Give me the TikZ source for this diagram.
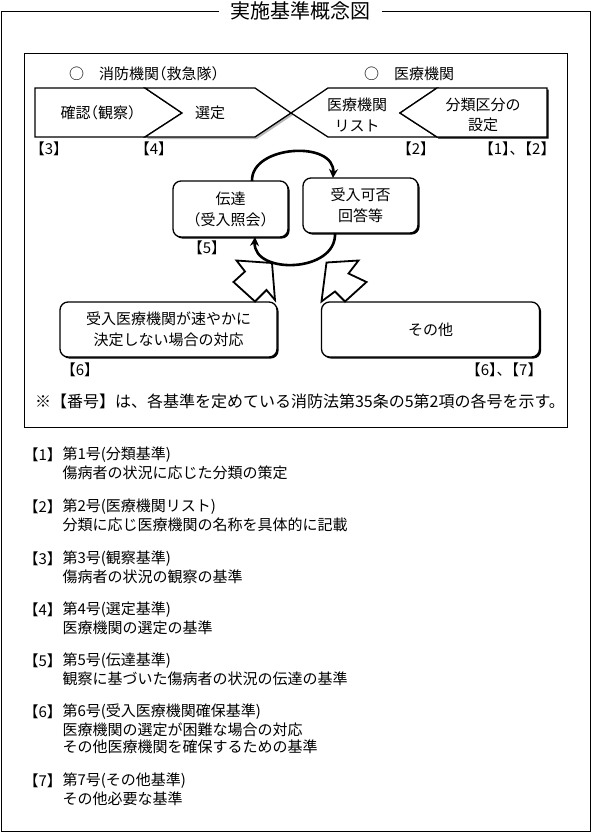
\documentclass[tikz,border=0pt]{standalone}
\usepackage{fontspec}
\setmainfont{Noto Sans CJK JP}
\newfontfamily\brk[RawFeature=+halt]{Noto Sans CJK JP}
\usetikzlibrary{arrows.meta,shadows}
\begin{document}
\begin{tikzpicture}[x=1pt,y=-1pt,
  every node/.style={inner sep=0pt, outer sep=0pt},
  txt/.style={font=\fontsize{15}{20.5}\selectfont, align=center},
  lst/.style={font=\fontsize{15}{17.5}\selectfont, anchor=west},
  lab/.style={font=\brk\fontsize{15}{17}\selectfont},
  chev/.style={draw=black, line width=1.3pt, fill=white, line join=miter},
  chevshadow/.style={fill=gray!55, draw=none},
  chevshadowk/.style={fill=black, draw=none},
  rbox/.style={draw=black, line width=1.3pt, fill=white, rounded corners=8pt,
    drop shadow={shadow xshift=1.6pt, shadow yshift=-1.6pt, fill=black, opacity=1},
    font=\fontsize{15}{21}\selectfont, align=center},
  cyc/.style={line width=2.6pt, -{Stealth[length=9pt,width=9pt]}},
  blk/.style={draw=black, line width=1.8pt, fill=white, line join=miter},
  frame/.style={line width=1pt}
]
\useasboundingbox (0,0) rectangle (591,833);

% title and outer frame
\node[font=\fontsize{20}{22}\selectfont, inner xsep=11.5pt] (title) at (300.5,11) {実施基準概念図};
\draw[frame] (title.west) -- (1,11) -- (1,831) -- (590,831) -- (590,11) -- (title.east);

% inner box
\draw[frame] (24,53) rectangle (567,427);

% headings
\node[txt, anchor=west] (fire) at (69,74) {○　{\brk 消防機関（救急隊）}};
\node[txt, anchor=west] (med) at (364,74) {○　医療機関};

% chevron shadows
\begin{scope}[shift={(2,2)}]
  \fill[chevshadow] (145,88) -- (255,88) -- (291,113) -- (255,137) -- (145,137) -- (182,113) -- cycle;
\end{scope}
\begin{scope}[shift={(1.6,1.6)}]
  \fill[chevshadowk] (400,113) -- (437,88) -- (547,88) -- (547,137) -- (437,137) -- cycle;
\end{scope}

% chevrons
\draw[chev] (35,88) -- (145,88) -- (182,113) -- (145,137) -- (35,137) -- cycle;
\draw[chev] (145,88) -- (255,88) -- (291,113) -- (255,137) -- (145,137) -- (182,113) -- cycle;
\draw[chev] (291,113) -- (328,88) -- (437,88) -- (400,113) -- (437,137) -- (328,137) -- cycle;
\draw[chev] (400,113) -- (437,88) -- (547,88) -- (547,137) -- (437,137) -- cycle;

\node[txt] (kakunin) at (98,113) {\brk 確認（観察）};
\node[txt] (sentei) at (210,113) {選定};
\node[txt] (list) at (357,115) {医療機関\\リスト};
\node[txt] (bunrui) at (483,115) {分類区分の\\設定};

% labels under chevrons
\node[lab] (n3) at (49,149) {【3】};
\node[lab] (n4) at (154,149) {【4】};
\node[lab] (n2) at (416,149) {【2】};
\node[lab, anchor=east] (n12) at (548,149) {【1】{\rmfamily 、}【2】};

% cycle boxes
\node[rbox, minimum width=115pt, minimum height=56pt] (den) at (230.5,209) {伝達\\（受入照会）};
\node[rbox, minimum width=115pt, minimum height=55pt] (ukeire) at (360.5,205.5) {受入可否\\回答等};
\node[lab] (n5) at (207,248) {【5】};

% bottom boxes
\node[rbox, minimum width=217pt, minimum height=55pt] (kakuho) at (168.5,329.5) {受入医療機関が速やかに\\決定しない場合の対応};
\node[rbox, minimum width=218pt, minimum height=55pt] (sonota) at (430.5,329.5) {その他};

% block arrows
\draw[blk] (272,263) -- (275,300) -- (266.5,290) -- (255,301.5) -- (233.5,282) -- (245,271.5) -- (236.5,260.5) -- cycle;
\draw[blk] (326.5,262.5) -- (358.5,260.5) -- (348.5,273.5) -- (366.5,282) -- (345,301.5) -- (335,291.5) -- (321.5,301.5) -- cycle;

% cycle arrows
\draw[cyc] ([xshift=21.5pt]den.north) .. controls +(-1,-36) and +(2,-38) .. ([xshift=-27.5pt]ukeire.north);
\draw[cyc] ([xshift=-25.5pt]ukeire.south) .. controls +(2,40) and +(-2,38) .. ([xshift=24.5pt]den.south);

\node[lab] (n6a) at (80,370) {【6】};
\node[lab, anchor=east] (n67) at (535,370) {【6】{\rmfamily 、}【7】};

\node[font=\fontsize{16}{18}\selectfont] (note) at (300,401) {※【番号】は、各基準を定めている消防法第35条の5第2項の各号を示す。};

% list
\node[lab, anchor=west] (b1) at (31,455) {【1】};
\node[lst] (t1a) at (62.5,455) {第1号(分類基準)};
\node[lst] (t1b) at (62.5,473) {傷病者の状況に応じた分類の策定};

\node[lab, anchor=west] (b2) at (31,507) {【2】};
\node[lst] (t2a) at (62.5,507) {第2号(医療機関リスト)};
\node[lst] (t2b) at (62.5,525) {分類に応じ医療機関の名称を具体的に記載};

\node[lab, anchor=west] (b3) at (31,559) {【3】};
\node[lst] (t3a) at (62.5,559) {第3号(観察基準)};
\node[lst] (t3b) at (62.5,577) {傷病者の状況の観察の基準};

\node[lab, anchor=west] (b4) at (31,610) {【4】};
\node[lst] (t4a) at (62.5,610) {第4号(選定基準)};
\node[lst] (t4b) at (62.5,628) {医療機関の選定の基準};

\node[lab, anchor=west] (b5) at (31,661) {【5】};
\node[lst] (t5a) at (62.5,661) {第5号(伝達基準)};
\node[lst] (t5b) at (62.5,679) {観察に基づいた傷病者の状況の伝達の基準};

\node[lab, anchor=west] (b6) at (31,712) {【6】};
\node[lst] (t6a) at (62.5,712) {第6号(受入医療機関確保基準)};
\node[lst] (t6b) at (62.5,729.5) {医療機関の選定が困難な場合の対応};
\node[lst] (t6c) at (62.5,747) {その他医療機関を確保するための基準};

\node[lab, anchor=west] (b7) at (31,781) {【7】};
\node[lst] (t7a) at (62.5,781) {第7号(その他基準)};
\node[lst] (t7b) at (62.5,798.5) {その他必要な基準};
\end{tikzpicture}
\end{document}
